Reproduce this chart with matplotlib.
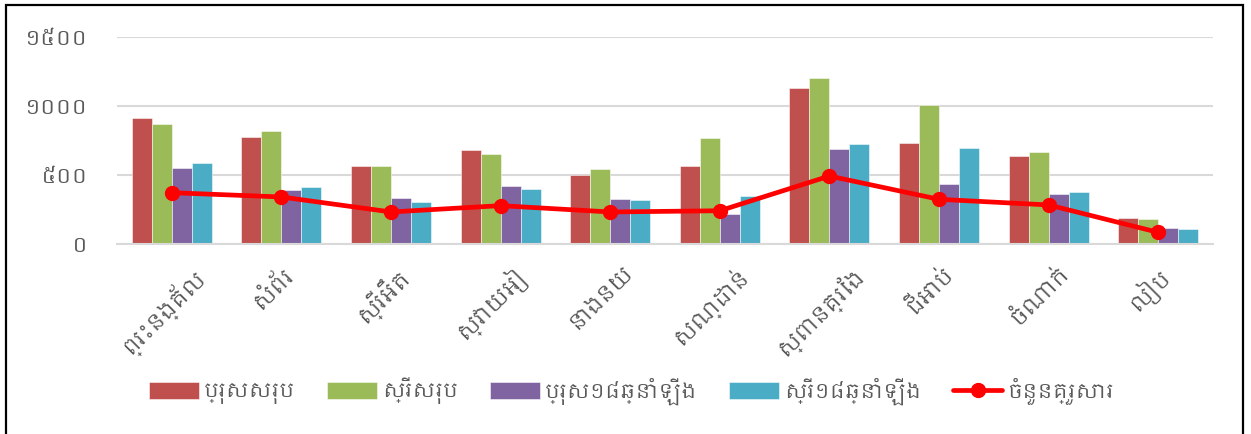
import matplotlib
matplotlib.use("Agg")
import matplotlib.pyplot as plt
import numpy as np
from matplotlib import font_manager as fm
from matplotlib.patches import Rectangle
import matplotlib.transforms as mtrans

# ---------------- data ----------------
categories = ["ព្រះនង្គ័ល", "សំព័រ", "ស្រីអឹត", "ស្វាយអៀ", "នាងនយ",
              "សណ្ដាន់", "ស្ពានគ្រែង", "ជីអាប់", "ចំណាក់", "លៀប"]
male_total = [913, 775, 560, 681, 495, 563, 1127, 727, 635, 183]
female_total = [870, 814, 560, 648, 538, 766, 1199, 1005, 662, 178]
male_18 = [546, 391, 330, 415, 325, 217, 688, 430, 359, 110]
female_18 = [582, 412, 301, 396, 316, 345, 725, 696, 374, 103]
households = [369, 338, 229, 275, 229, 238, 490, 321, 280, 81]

series_names = ["ប្រុសសរុប", "ស្រីសរុប", "ប្រុស១៨ឆ្នាំឡើង", "ស្រី១៨ឆ្នាំឡើង"]
line_name = "ចំនួនគ្រួសារ"
ytick_values = [0, 500, 1000, 1500]
ytick_labels = ["០", "៥០០", "១០០០", "១៥០០"]

# ---------------- font ----------------
khmer_family = None
for f in fm.fontManager.ttflist:
    if "khmer" in f.name.lower():
        khmer_family = f.name
        break
if khmer_family is None:
    try:
        from fontTools.ttLib import TTFont
        for f in fm.fontManager.ttflist:
            if "CJK" in f.name:
                continue
            try:
                tt = TTFont(f.fname, fontNumber=0, lazy=True)
                cm = tt.getBestCmap()
                if cm and 0x1780 in cm:
                    khmer_family = f.name
                    break
            except Exception:
                pass
    except Exception:
        pass
fams = ([khmer_family] if khmer_family else []) + ["DejaVu Sans"]
plt.rcParams["font.family"] = fams

W, H = 1251, 434
fig = plt.figure(figsize=(W / 100, H / 100), dpi=100)
ax = fig.add_axes([117 / W, 1 - 243.5 / H, (1213 - 117) / W, (243.5 - 37) / H])

colors = ["#C0504D", "#9BBB59", "#8064A2", "#4BACC6"]
data = [male_total, female_total, male_18, female_18]
x = np.arange(len(categories))
bw = 0.1825
bar_handles = []
for i, (vals, c, name) in enumerate(zip(data, colors, series_names)):
    b = ax.bar(x + (i - 1.5) * bw, vals, width=bw, color=c, edgecolor=(1, 1, 1, 0.6),
               linewidth=0.6, label=name, zorder=2)
    bar_handles.append(b)

line, = ax.plot(x, households, color="#FF0000", lw=3.4, marker="o", markersize=10,
                label=line_name, zorder=3, solid_capstyle="round")

ax.set_xlim(-0.5, len(categories) - 0.5)
ax.set_ylim(0, 1500)
ax.set_yticks(ytick_values)
ax.set_yticklabels(ytick_labels, fontsize=15, color="#595959")
ax.tick_params(axis="y", length=0, pad=21)
ax.tick_params(axis="x", length=0, pad=13)
ax.set_xticks(x)
ax.set_xticklabels(categories, rotation=45, ha="center", va="top",
                   fontsize=15.5, color="#595959")
ax.grid(axis="y", color="#D9D9D9", lw=1.5, zorder=0)
ax.set_axisbelow(True)
for s in ["top", "right", "left"]:
    ax.spines[s].set_visible(False)
ax.spines["bottom"].set_color("#D9D9D9")
ax.spines["bottom"].set_linewidth(1.5)

offset = mtrans.ScaledTranslation(-9 / 100, 0, fig.dpi_scale_trans)
for lbl in ax.get_xticklabels():
    lbl.set_transform(lbl.get_transform() + offset)

handles = bar_handles + [line]
labels = series_names + [line_name]
leg = fig.legend(handles, labels, loc="center", bbox_to_anchor=(0.505, 1 - 391 / H),
                 ncol=5, frameon=False, fontsize=14.5, handlelength=2.45,
                 handleheight=0.95, handletextpad=0.25, columnspacing=1.6,
                 labelcolor="#595959")

# outer frame
fig.patches.append(Rectangle((6 / W, -0.05), (1243 - 6) / W, 1 - 5 / H + 0.05,
                             transform=fig.transFigure, fill=False,
                             edgecolor="black", lw=1.6))

fig.savefig("out.png", dpi=100)
